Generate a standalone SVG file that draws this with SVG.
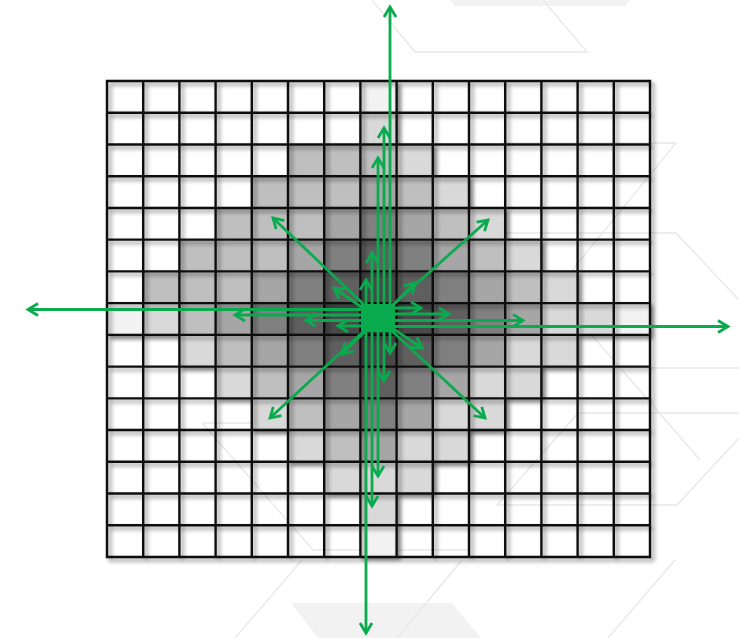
<svg xmlns="http://www.w3.org/2000/svg" width="739" height="638" viewBox="0 0 739 638">
<style>
.bg{fill:none;stroke:#e8e8e8;stroke-width:1.3}
.bgf{fill:#f2f2f2;stroke:none}
.c7{fill:#f2f2f2}.c6{fill:#d9d9d9}.c5{fill:#bfbfbf}.c4{fill:#a6a6a6}.c3{fill:#808080}.c2{fill:#5f5f5f}.c1{fill:#4a4a4a}.c0{fill:#333}
.gl{fill:none;stroke:#111;stroke-width:2.4;stroke-linecap:square}
.ar{fill:none;stroke:#0aab4e;stroke-width:2.8;marker-end:url(#ah)}
</style>
<defs>
<filter id="sh" x="-5%" y="-5%" width="112%" height="112%">
<feDropShadow dx="3" dy="3" stdDeviation="2.2" flood-color="#000" flood-opacity="0.45"/>
</filter>
<marker id="ah" markerUnits="userSpaceOnUse" markerWidth="18" markerHeight="18" viewBox="-13 -9 18 18" refX="0" refY="0" orient="auto">
<path d="M-10,-6 L0,0 L-10,6" fill="none" stroke="#0aab4e" stroke-width="2.8"/>
</marker>
</defs>
<rect width="739" height="638" fill="#fff"/>
<g id="background">
<polygon class="bgf" points="450,0 630,0 625,6 455,6"/>
<polygon class="bgf" points="291,603 452,603 481,638 318,638"/>
<polyline class="bg" points="372,0 415,52 587,52 543,0"/>
<polyline class="bg" points="502,143 676,143 560,285"/>
<polyline class="bg" points="502,233 676,233 739,300"/>
<polyline class="bg" points="578,368 739,368"/>
<polyline class="bg" points="739,413 578,413 497,505 677,505 739,438"/>
<polyline class="bg" points="590,333 700,460"/>
<polyline class="bg" points="202,423 257,423"/>
<polyline class="bg" points="202,423 313,550 470,550"/>
<line class="bg" x1="302" y1="560" x2="235" y2="638"/>
<line class="bg" x1="462" y1="560" x2="397" y2="638"/>
<line class="bg" x1="675" y1="560" x2="608" y2="638"/>
</g>
<g id="grid">
<g filter="url(#sh)">
<g transform="translate(107,81) scale(36.2,31.7333)">
<rect class="c7" x="7" y="0" width="1" height="1"/>
<rect class="c7" x="7" y="14" width="1" height="1"/>
<rect class="c7" x="0" y="7" width="1" height="1"/>
<rect class="c7" x="14" y="7" width="1" height="1"/>
<path class="c6" d="M7,1h1v1h1v1h1v1h1v1h1v1h1v1h1v1h-1v1h-1v1h-1v1h-1v1h-1v1h-1v1h-1v-1h-1v-1h-1v-1h-1v-1h-1v-1h-1v-1h-1v-1h1v-1h1v-1h1v-1h1v-1h1v-1h1z"/>
<path class="c5" d="M7,2h1v1h1v1h1v1h1v1h1v1h-1v1h-1v1h-1v1h-1v1h-1v1h-1v-1h-1v-1h-1v-1h-1v-1h-1v-1h-1v-1h1v-1h1v-1h1v-1h1v-1h1z"/>
<path class="c4" d="M7,3h1v1h1v1h1v1h1v1h1v1h-1v1h-1v1h-1v1h-1v1h-1v-1h-1v-1h-1v-1h-1v-1h-1v-1h1v-1h1v-1h1v-1h1z"/>
<path class="c3" d="M7,4h1v1h1v1h1v1h1v1h-1v1h-1v1h-1v1h-1v-1h-1v-1h-1v-1h-1v-1h1v-1h1v-1h1z"/>
<path class="c2" d="M7,5h1v1h1v1h1v1h-1v1h-1v1h-1v-1h-1v-1h-1v-1h1v-1h1z"/>
<path class="c1" d="M7,6h1v1h1v1h-1v1h-1v-1h-1v-1h1z"/>
<rect class="c0" x="7" y="7" width="1" height="1"/>
</g>
</g>
<g filter="url(#sh)">
<g transform="translate(107,81) scale(36.2,31.7333)">
<path class="gl" vector-effect="non-scaling-stroke" d="M0,0V15M1,0V15M2,0V15M3,0V15M4,0V15M5,0V15M6,0V15M7,0V15M8,0V15M9,0V15M10,0V15M11,0V15M12,0V15M13,0V15M14,0V15M15,0V15M0,0H15M0,1H15M0,2H15M0,3H15M0,4H15M0,5H15M0,6H15M0,7H15M0,8H15M0,9H15M0,10H15M0,11H15M0,12H15M0,13H15M0,14H15M0,15H15"/>
</g>
</g>
</g>
<g id="connectors">
<path class="ar" d="M366,318V280"/>
<path class="ar" d="M372,318V253"/>
<path class="ar" d="M378,318V158"/>
<path class="ar" d="M384,318V128"/>
<path class="ar" d="M390,318V7"/>
<path class="ar" d="M390,318V353"/>
<path class="ar" d="M384,318V381"/>
<path class="ar" d="M378,318V476"/>
<path class="ar" d="M372,318V506"/>
<path class="ar" d="M366,318V633"/>
<path class="ar" d="M378,309.5H28"/>
<path class="ar" d="M378,315H235"/>
<path class="ar" d="M378,320.5H306"/>
<path class="ar" d="M378,326H338"/>
<path class="ar" d="M378,308H421"/>
<path class="ar" d="M378,314H449"/>
<path class="ar" d="M378,320.5H523"/>
<path class="ar" d="M378,326.5H728"/>
<path class="ar" d="M378,318L273,218"/>
<path class="ar" d="M370,313L334,288"/>
<path class="ar" d="M378,318L488,220"/>
<path class="ar" d="M386,312L415,283"/>
<path class="ar" d="M378,318L270,418"/>
<path class="ar" d="M372,325L342,354"/>
<path class="ar" d="M378,318L485,418"/>
<path class="ar" d="M386,324L422,348"/>
</g>
<g id="center">
<rect x="361" y="304" width="34" height="28" fill="#0aab4e"/>
</g>
</svg>
